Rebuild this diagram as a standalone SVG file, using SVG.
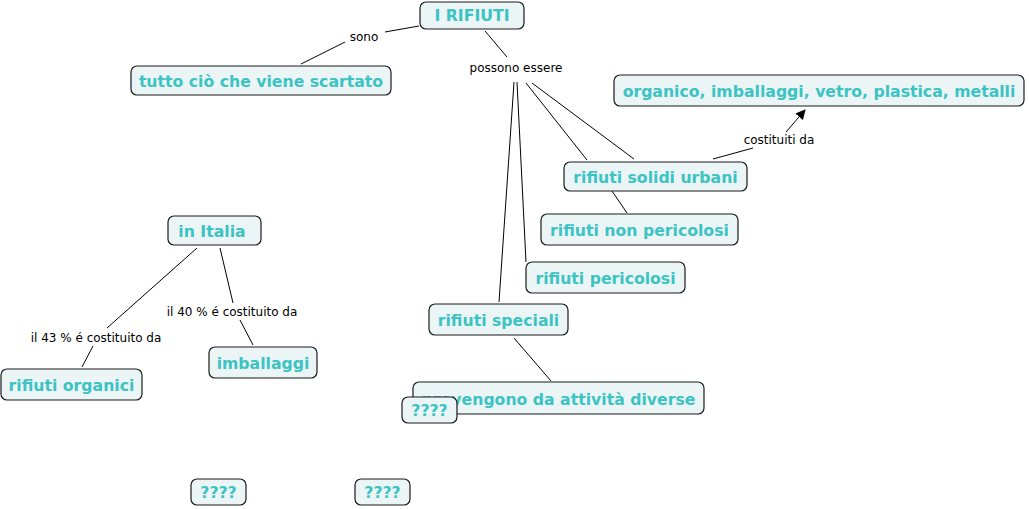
<svg xmlns="http://www.w3.org/2000/svg" width="1029" height="509" viewBox="0 0 1029 509">
<style>
.n rect{fill:#ebf5f6;stroke:#1a1a1a;stroke-width:1.2}
.n text{font-family:"DejaVu Sans",Verdana,sans-serif;font-weight:bold;font-size:15.7px;fill:#3cc3c3;text-anchor:middle}
.c line{stroke:#000;stroke-width:1}
.l{font-family:"DejaVu Sans",Verdana,sans-serif;font-size:12px;fill:#000;text-anchor:middle}
</style>
<defs>
<marker id="arr" viewBox="0 0 10 10" refX="9" refY="5" markerWidth="10" markerHeight="10" markerUnits="userSpaceOnUse" orient="auto"><path d="M0,0 L10,5 L0,10 z" fill="#000"/></marker>
</defs>
<rect width="1029" height="509" fill="#fff"/>
<g class="c" id="connectors">
<line x1="419" y1="26" x2="385" y2="32"/>
<line x1="345" y1="42" x2="301" y2="64"/>
<line x1="485" y1="31" x2="507" y2="57"/>
<line x1="514" y1="82" x2="499" y2="302"/>
<line x1="517" y1="82" x2="526" y2="262"/>
<line x1="526" y1="83" x2="587" y2="160"/>
<line x1="532" y1="83" x2="634" y2="159"/>
<line x1="612" y1="191" x2="627" y2="213"/>
<line x1="713" y1="159" x2="753" y2="148"/>
<line x1="786" y1="132" x2="805" y2="110" marker-end="url(#arr)"/>
<line x1="197" y1="248" x2="107" y2="328"/>
<line x1="93" y1="346" x2="82" y2="367"/>
<line x1="220" y1="248" x2="233" y2="303"/>
<line x1="240" y1="320" x2="253" y2="345"/>
<line x1="514" y1="338" x2="551" y2="381"/>
<text class="l" x="364" y="41">sono</text>
<text class="l" x="516" y="72">possono essere</text>
<text class="l" x="779" y="144">costituiti da</text>
<text class="l" x="96" y="342">il 43 % é costituito da</text>
<text class="l" x="232" y="316">il 40 % é costituito da</text>
</g>
<g class="n" id="n-rifiuti"><rect x="420" y="2" width="104" height="27" rx="6"/><text x="472" y="21">I RIFIUTI</text></g>
<g class="n" id="n-tutto"><rect x="131" y="66" width="260" height="29" rx="6"/><text x="261" y="87">tutto ciò che viene scartato</text></g>
<g class="n" id="n-organico"><rect x="614" y="75" width="410" height="31" rx="6"/><text x="819" y="97">organico, imballaggi, vetro, plastica, metalli</text></g>
<g class="n" id="n-solidi"><rect x="564" y="162" width="183" height="29" rx="6"/><text x="655.5" y="183">rifiuti solidi urbani</text></g>
<g class="n" id="n-nonpericolosi"><rect x="541" y="214" width="197" height="31" rx="6"/><text x="639.5" y="236">rifiuti non pericolosi</text></g>
<g class="n" id="n-pericolosi"><rect x="526" y="262" width="159" height="31" rx="6"/><text x="605.5" y="284">rifiuti pericolosi</text></g>
<g class="n" id="n-speciali"><rect x="429" y="304" width="139" height="31" rx="6"/><text x="498.5" y="326">rifiuti speciali</text></g>
<g class="n" id="n-provengono"><rect x="413" y="382" width="291" height="32" rx="6"/><text x="558.5" y="405">provengono da attività diverse</text></g>
<g class="n" id="n-q1"><rect x="402" y="397" width="55" height="26" rx="6"/><text x="429.5" y="416">????</text></g>
<g class="n" id="n-italia"><rect x="168" y="216" width="93" height="29" rx="6"/><text x="212" y="237">in Italia</text></g>
<g class="n" id="n-imballaggi"><rect x="209" y="347" width="108" height="31" rx="6"/><text x="263" y="369">imballaggi</text></g>
<g class="n" id="n-organici"><rect x="1" y="369" width="141" height="31" rx="6"/><text x="71.5" y="391">rifiuti organici</text></g>
<g class="n" id="n-q2"><rect x="191" y="479" width="55" height="26" rx="6"/><text x="218.5" y="498">????</text></g>
<g class="n" id="n-q3"><rect x="355" y="479" width="55" height="26" rx="6"/><text x="382.5" y="498">????</text></g>
</svg>
